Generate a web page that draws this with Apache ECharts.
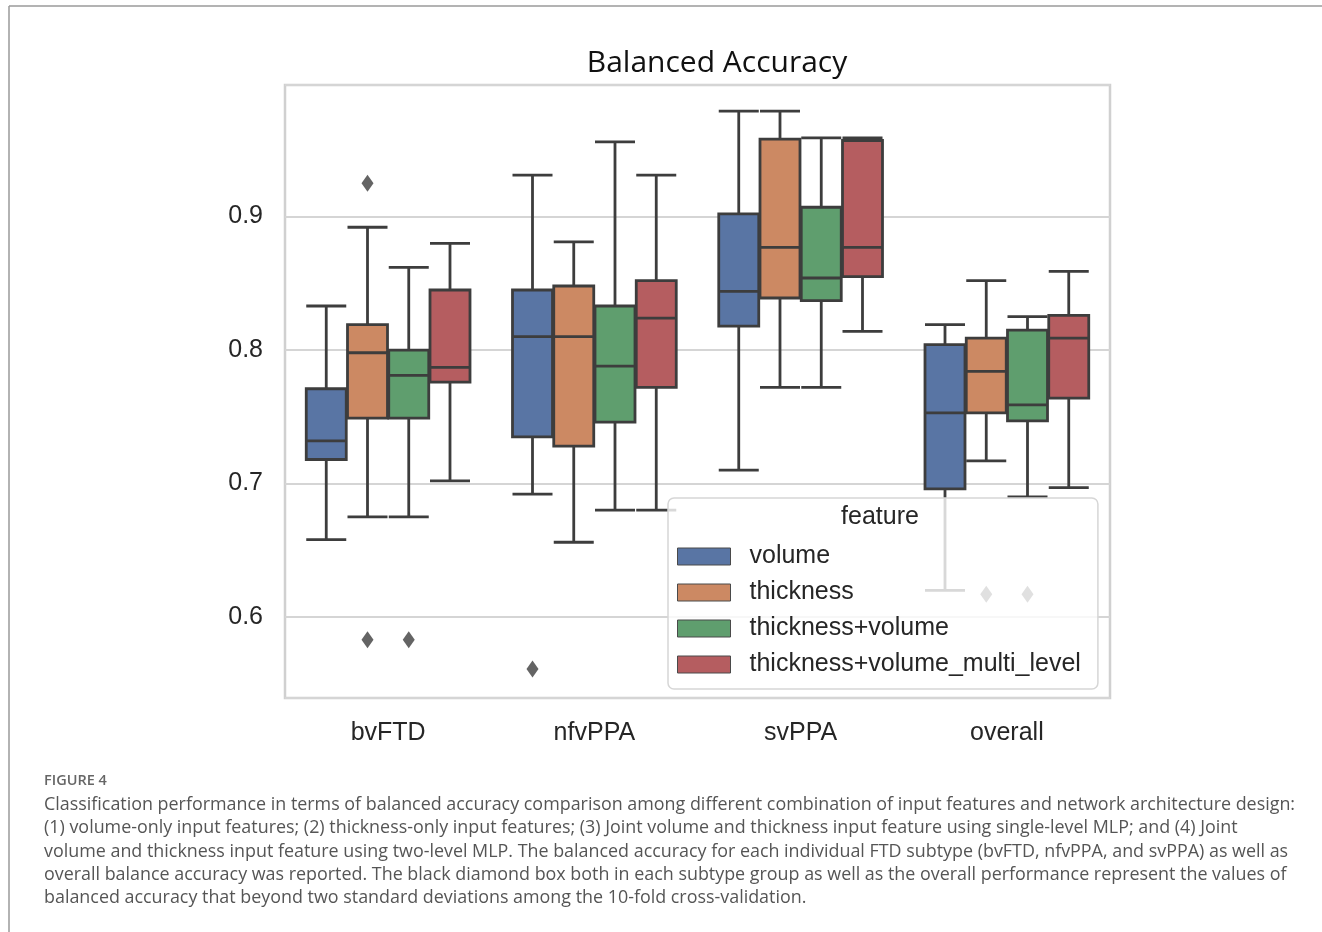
<!DOCTYPE html>
<html>
<head>
<meta charset="utf-8">
<style>
html,body{margin:0;padding:0;background:#fff;}
#chart{width:1322px;height:932px;}
</style>
<script src="https://cdn.jsdelivr.net/npm/echarts@6/dist/echarts.min.js"></script>
</head>
<body>
<div id="chart"></div>
<script>
var groups=['bvFTD','nfvPPA','svPPA','overall'];
var features=['volume','thickness','thickness+volume','thickness+volume_multi_level'];
var colors=['#5975a4','#cc8963','#5f9e6e','#b55d60'];

// [min, Q1, median, Q3, max] for each group
var volumeStats=[[0.658,0.718,0.732,0.771,0.833],[0.692,0.735,0.810,0.845,0.931],[0.710,0.818,0.844,0.902,0.979],[0.620,0.696,0.753,0.804,0.819]];
var thicknessStats=[[0.675,0.749,0.798,0.819,0.892],[0.656,0.728,0.810,0.848,0.881],[0.772,0.839,0.877,0.958,0.979],[0.717,0.753,0.784,0.809,0.852]];
var jointStats=[[0.675,0.749,0.781,0.800,0.862],[0.680,0.746,0.788,0.833,0.956],[0.772,0.837,0.854,0.907,0.959],[0.690,0.747,0.759,0.815,0.825]];
var multiStats=[[0.702,0.776,0.787,0.845,0.880],[0.680,0.772,0.824,0.852,0.931],[0.814,0.855,0.877,0.957,0.959],[0.697,0.764,0.809,0.826,0.859]];

// outliers for each group
var volumeOutliers=[[],[0.561],[],[]];
var thicknessOutliers=[[0.925,0.583],[],[],[0.617]];
var jointOutliers=[[0.583],[],[],[0.617]];
var multiOutliers=[[],[],[],[]];

var yTicks=[0.6,0.7,0.8,0.9];

var captionHead='FIGURE 4';
var captionLines=[
    'Classification performance in terms of balanced accuracy comparison among different combination of input features and network architecture design:',
    '(1) volume-only input features; (2) thickness-only input features; (3) Joint volume and thickness input feature using single-level MLP; and (4) Joint',
    'volume and thickness input feature using two-level MLP. The balanced accuracy for each individual FTD subtype (bvFTD, nfvPPA, and svPPA) as well as',
    'overall balance accuracy was reported. The black diamond box both in each subtype group as well as the overall performance represent the values of',
    'balanced accuracy that beyond two standard deviations among the 10-fold cross-validation.'
];

var allStats=[volumeStats,thicknessStats,jointStats,multiStats];
var allOutliers=[volumeOutliers,thicknessOutliers,jointOutliers,multiOutliers];

function hueX(g,h){
    return g+(h-1.5)*0.2;
}

var xAxes=[{
    type:'category',
    data:groups,
    gridIndex:0,
    axisLine:{show:false},
    axisTick:{show:false},
    splitLine:{show:false},
    axisLabel:{fontSize:25,color:'#262626',fontFamily:'Liberation Sans',margin:23}
}];
var series=[];
var outlierData=[];
for(var h=0;h<4;h++){
    xAxes.push({type:'value',min:-0.5,max:3.5,show:false,gridIndex:0});
    var d=[];
    for(var g=0;g<4;g++){
        d.push([hueX(g,h)].concat(allStats[h][g]));
        for(var k=0;k<allOutliers[h][g].length;k++){
            outlierData.push([hueX(g,h),allOutliers[h][g][k]]);
        }
    }
    series.push({
        name:features[h],
        type:'boxplot',
        layout:'horizontal',
        xAxisIndex:h+1,
        boxWidth:[40,40],
        silent:true,
        itemStyle:{color:colors[h],borderColor:'#3d3d3d',borderWidth:2.8},
        emphasis:{disabled:true},
        data:d
    });
}
series.push({
    name:'outliers',
    type:'scatter',
    xAxisIndex:1,
    symbol:'diamond',
    symbolSize:[12,17],
    silent:true,
    itemStyle:{color:'#3d3d3d'},
    data:outlierData
});

var legendData=[];
for(var i=0;i<features.length;i++){
    legendData.push({name:features[i],itemStyle:{color:colors[i],borderColor:'#4a4a4a',borderWidth:1}});
}

var graphics=[
    {type:'line',shape:{x1:9,y1:6,x2:1322,y2:6},style:{stroke:'#9a9a9a',lineWidth:1.5}},
    {type:'line',shape:{x1:9,y1:6,x2:9,y2:932},style:{stroke:'#9a9a9a',lineWidth:1.5}},
    {type:'text',x:717,y:63,style:{text:'Balanced Accuracy',font:'30px "Open Sans"',fill:'#111',align:'center',verticalAlign:'middle'}},
    {type:'text',x:880,y:517,z:200,style:{text:'feature',font:'25px "Liberation Sans"',fill:'#262626',align:'center',verticalAlign:'middle'}},
    {type:'text',x:44,y:781,style:{text:captionHead,font:'600 14.5px "Open Sans"',fill:'#666',verticalAlign:'middle'}}
];
for(var j=0;j<captionLines.length;j++){
    graphics.push({type:'text',x:44,y:805+j*23.3,style:{text:captionLines[j],font:'17.9px "Open Sans"',fill:'#555',verticalAlign:'middle'}});
}

var option={
    backgroundColor:'#fff',
    animation:false,
    grid:{left:285,right:212,top:85,bottom:234,show:true,borderColor:'#d0d0d0',borderWidth:2.5,backgroundColor:'#fff'},
    xAxis:xAxes,
    yAxis:{
        type:'value',
        min:0.5393,
        max:0.9986,
        minInterval:0.1,
        maxInterval:0.1,
        axisLine:{show:false},
        axisTick:{show:false},
        splitLine:{lineStyle:{color:'#d5d5d5',width:2}},
        axisLabel:{
            fontSize:25,color:'#262626',fontFamily:'Liberation Sans',margin:22,
            showMinLabel:false,showMaxLabel:false,
            formatter:function(v){
                for(var t=0;t<yTicks.length;t++){
                    if(Math.abs(v-yTicks[t])<1e-6) return yTicks[t].toFixed(1);
                }
                return '';
            }
        }
    },
    legend:{
        data:legendData,
        orient:'vertical',
        left:668,
        top:498,
        icon:'rect',
        itemWidth:53,
        itemHeight:17,
        itemGap:11,
        padding:[46,17,12,9],
        backgroundColor:'rgba(255,255,255,0.8)',
        borderColor:'#d6d6d6',
        borderWidth:1.5,
        borderRadius:6,
        selectedMode:false,
        textStyle:{fontSize:25,color:'#262626',fontFamily:'Liberation Sans',padding:[0,0,0,14]}
    },
    graphic:graphics,
    series:series
};

var myChart=echarts.init(document.getElementById('chart'));
myChart.setOption(option);
</script>
</body>
</html>
